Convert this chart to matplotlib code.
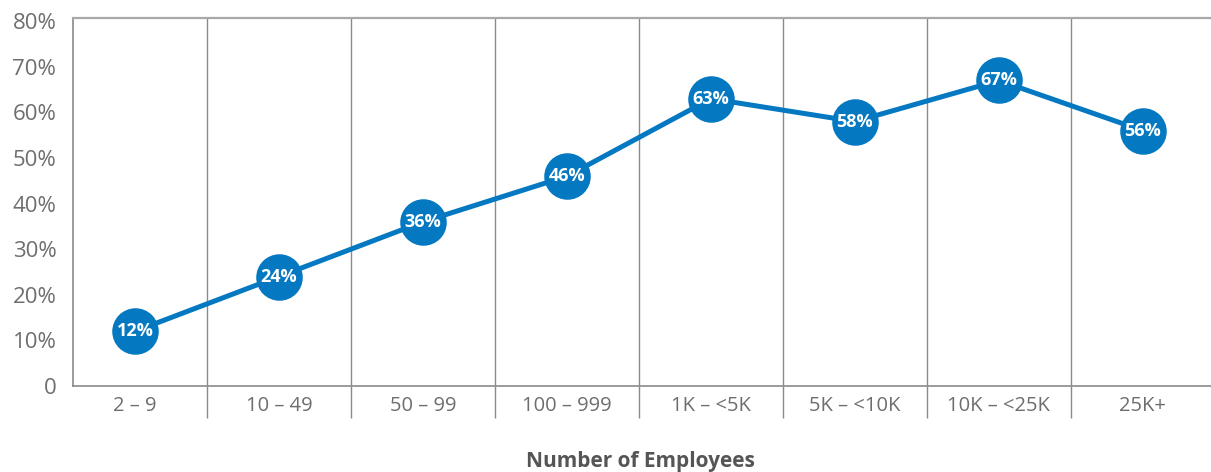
import matplotlib.pyplot as plt
import numpy as np

categories = ["2 – 9", "10 – 49", "50 – 99", "100 – 999", "1K – <5K", "5K – <10K", "10K – <25K", "25K+"]
values = [12, 24, 36, 46, 63, 58, 67, 56]
yticks = [0, 10, 20, 30, 40, 50, 60, 70, 80]
ytick_labels = ["0", "10%", "20%", "30%", "40%", "50%", "60%", "70%", "80%"]

BLUE = "#0479c1"
GRAY = "#6e6e6e"
LINE = "#8a8a8a"

plt.rcParams['font.family'] = ['Open Sans', 'DejaVu Sans']


def main():
    fig = plt.figure(figsize=(12.11, 4.72), dpi=100)
    ax = fig.add_axes([73 / 1211, 86 / 472, 1138 / 1211, 368 / 472])

    x = np.arange(len(categories))
    ax.plot(x, values, color=BLUE, lw=3.6, marker='o', ms=33.5,
            mfc=BLUE, mew=0, zorder=3, clip_on=False)
    for xi, v in zip(x, values):
        ax.text(xi, v, f"{v}%", color='white', fontsize=13, fontweight='bold',
                ha='center', va='center', zorder=4)

    ax.set_xlim(-0.43, -0.43 + 1138 / 144)
    # top frame line sits a little above the 80% tick
    ax.set_ylim(0, 368 / 4.56)

    # separators between categories
    seps = np.arange(0.5, len(categories) - 0.5, 1)
    for s in seps:
        ax.axvline(s, color=LINE, lw=1.0, zorder=1)

    ax.set_xticks(x)
    ax.set_xticklabels(categories, fontsize=14.5, color=GRAY)
    ax.set_xticks(seps, minor=True)
    ax.tick_params(axis='x', which='major', length=0, pad=7)
    ax.tick_params(axis='x', which='minor', length=23, width=1.0, color=LINE, direction='out')

    ax.set_yticks(yticks)
    ax.set_yticklabels(ytick_labels, fontsize=16, color=GRAY)
    ax.tick_params(axis='y', length=0, pad=12)

    for side in ['left', 'bottom']:
        ax.spines[side].set_color(LINE)
        ax.spines[side].set_linewidth(1.2)
    ax.spines['top'].set_color("#a8a8a8")
    ax.spines['top'].set_linewidth(1.6)
    ax.spines['right'].set_visible(False)

    fig.text(640 / 1211, 1 - 461 / 472, "Number of Employees", fontsize=15,
             fontweight='bold', color="#555555", ha='center', va='center')

    fig.savefig("out.png", dpi=100)


if __name__ == "__main__":
    main()
